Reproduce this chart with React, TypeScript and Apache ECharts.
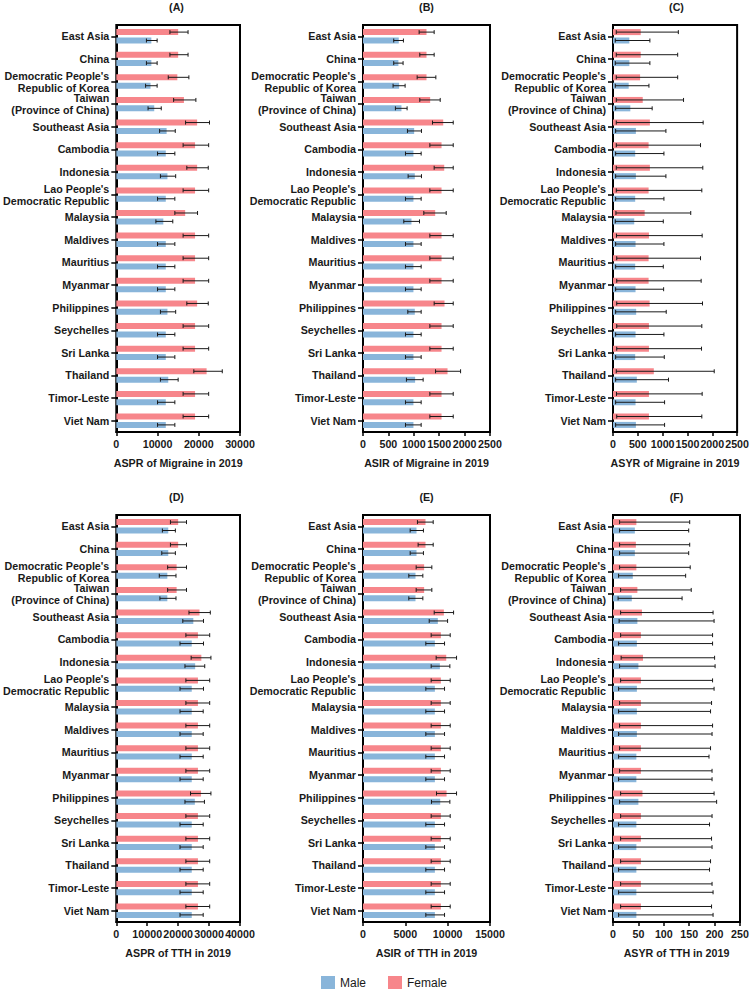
import React, { useEffect, useRef } from "react";
import * as echarts from "echarts";

const CATEGORIES = [
  "East Asia", "China", "Democratic People's\nRepublic of Korea", "Taiwan\n(Province of China)",
  "Southeast Asia", "Cambodia", "Indonesia", "Lao People's\nDemocratic Republic", "Malaysia",
  "Maldives", "Mauritius", "Myanmar", "Philippines", "Seychelles", "Sri Lanka", "Thailand",
  "Timor-Leste", "Viet Nam",
];

// (A) ASPR of Migraine
const A_F = [15000, 15000, 14800, 16400, 19600, 19100, 19600, 19100, 16700, 19100, 19100, 19100, 19600, 19100, 19100, 21900, 19100, 19100];
const A_F_LO = [13000, 13000, 12600, 13900, 16800, 16200, 17100, 16200, 14200, 16200, 16200, 16200, 17100, 16200, 16200, 18800, 16200, 16200];
const A_F_HI = [17400, 17400, 17600, 19300, 22600, 22400, 22300, 22400, 19700, 22400, 22400, 22400, 22300, 22400, 22400, 25700, 22400, 22400];
const A_M = [8500, 8500, 8300, 9200, 12200, 12000, 12400, 12000, 11400, 12000, 12000, 12000, 12400, 12000, 12000, 12600, 12000, 12000];
const A_M_LO = [7300, 7300, 7100, 7700, 10500, 10000, 10700, 10000, 9600, 10000, 10000, 10000, 10700, 10000, 10000, 10700, 10000, 10000];
const A_M_HI = [9900, 9900, 9900, 10900, 14300, 14200, 14400, 14200, 13700, 14200, 14200, 14200, 14400, 14200, 14200, 15000, 14200, 14200];

// (B) ASIR of Migraine
const B_F = [1250, 1250, 1250, 1322, 1579, 1546, 1599, 1546, 1421, 1546, 1546, 1546, 1605, 1546, 1546, 1664, 1546, 1546];
const B_F_LO = [1105, 1118, 1066, 1118, 1368, 1316, 1401, 1316, 1197, 1316, 1316, 1316, 1401, 1316, 1316, 1428, 1316, 1316];
const B_F_HI = [1401, 1401, 1434, 1520, 1776, 1776, 1776, 1776, 1638, 1776, 1776, 1776, 1776, 1776, 1776, 1921, 1776, 1776];
const B_M = [704, 697, 711, 757, 1007, 993, 1020, 993, 954, 993, 993, 993, 1020, 993, 993, 1026, 993, 993];
const B_M_LO = [605, 605, 592, 638, 875, 836, 888, 836, 803, 836, 836, 836, 882, 836, 836, 855, 836, 836];
const B_M_HI = [796, 789, 829, 868, 1151, 1145, 1151, 1145, 1112, 1145, 1145, 1145, 1145, 1145, 1145, 1184, 1145, 1145];

// (C) ASYR of Migraine
const C_F = [559, 559, 546, 599, 743, 717, 743, 717, 638, 724, 717, 717, 737, 724, 724, 822, 724, 724];
const C_F_LO = [66, 66, 66, 66, 66, 66, 66, 66, 59, 70, 75, 75, 75, 75, 75, 66, 70, 75];
const C_F_HI = [1316, 1303, 1303, 1421, 1816, 1763, 1809, 1789, 1566, 1796, 1763, 1776, 1803, 1789, 1783, 2039, 1796, 1789];
const C_M = [329, 329, 316, 349, 461, 447, 461, 447, 428, 454, 447, 454, 467, 454, 447, 480, 454, 461];
const C_M_LO = [46, 46, 46, 53, 53, 53, 53, 53, 46, 53, 53, 53, 53, 53, 53, 53, 53, 53];
const C_M_HI = [743, 743, 724, 789, 1066, 1026, 1066, 1026, 1013, 1026, 1013, 1020, 1072, 1026, 1033, 1118, 1039, 1039];

// (D) ASPR of TTH
const D_F = [20000, 20000, 19500, 19500, 26900, 26400, 27500, 26400, 26400, 26400, 26400, 26400, 27400, 26400, 26400, 26400, 26400, 26400];
const D_F_LO = [17500, 17500, 16600, 16600, 23500, 22500, 24200, 22500, 22500, 22500, 22500, 22500, 24000, 22500, 22500, 22500, 22500, 22500];
const D_F_HI = [22700, 22700, 22700, 22700, 30400, 30200, 30600, 30200, 30200, 30200, 30200, 30200, 30600, 30200, 30200, 30200, 30200, 30200];
const D_M = [16800, 16800, 16500, 16500, 24900, 24400, 25500, 24400, 24400, 24400, 24400, 24400, 25400, 24400, 24400, 24400, 24400, 24400];
const D_M_LO = [14900, 14700, 13900, 14100, 21500, 20600, 22200, 20600, 20600, 20600, 20600, 20600, 22200, 20600, 20600, 20600, 20600, 20600];
const D_M_HI = [19100, 19100, 19300, 19300, 28200, 28200, 28600, 28200, 28100, 28100, 28100, 28100, 28500, 28100, 28100, 28100, 28100, 28100];

// (E) ASIR of TTH
const E_F = [7380, 7380, 7220, 7220, 9550, 9200, 9830, 9200, 9200, 9200, 9200, 9200, 9870, 9200, 9200, 9200, 9200, 9200];
const E_F_LO = [6430, 6510, 6280, 6280, 8410, 8050, 8640, 8050, 8050, 8050, 8050, 8050, 8680, 8050, 8050, 8050, 8050, 8050];
const E_F_HI = [8290, 8290, 8130, 8130, 10700, 10300, 11050, 10300, 10300, 10300, 10300, 10300, 11050, 10300, 10300, 10300, 10300, 10300];
const E_M = [6320, 6320, 6200, 6200, 8840, 8490, 9080, 8490, 8490, 8490, 8490, 8490, 9120, 8490, 8490, 8490, 8490, 8490];
const E_M_LO = [5570, 5570, 5410, 5410, 7820, 7420, 8050, 7420, 7420, 7420, 7420, 7420, 8090, 7420, 7420, 7420, 7420, 7420];
const E_M_HI = [7140, 7140, 7070, 7070, 9990, 9630, 10260, 9630, 9630, 9630, 9630, 9630, 10260, 9630, 9630, 9630, 9630, 9630];

// (F) ASYR of TTH
const F_F = [46, 45, 46, 48, 57, 55, 59, 55, 55, 55, 55, 55, 58, 55, 55, 55, 55, 55];
const F_F_LO = [13, 13, 13, 15, 15, 15, 16, 15, 13, 13, 13, 13, 15, 15, 15, 15, 15, 15];
const F_F_HI = [151, 151, 152, 154, 197, 196, 200, 196, 194, 196, 192, 195, 199, 195, 194, 192, 195, 194];
const F_M = [43, 43, 39, 37, 48, 47, 50, 47, 47, 47, 46, 46, 50, 46, 46, 46, 46, 46];
const F_M_LO = [13, 13, 11, 10, 12, 11, 13, 11, 11, 11, 11, 11, 13, 11, 11, 11, 11, 11];
const F_M_HI = [149, 149, 143, 136, 199, 196, 201, 199, 192, 195, 189, 195, 204, 190, 195, 190, 197, 197];

const PANEL_TITLES = ["(A)", "(B)", "(C)", "(D)", "(E)", "(F)"];
const AXIS_NAMES = [
  "ASPR of Migraine in 2019", "ASIR of Migraine in 2019", "ASYR of Migraine in 2019",
  "ASPR of TTH in 2019", "ASIR of TTH in 2019", "ASYR of TTH in 2019",
];
const AXIS_MAX = [30000, 2500, 2500, 40000, 15000, 250];
const AXIS_INTERVAL = [10000, 500, 500, 10000, 5000, 50];

const PANELS = [
  { f: A_F, fLo: A_F_LO, fHi: A_F_HI, m: A_M, mLo: A_M_LO, mHi: A_M_HI },
  { f: B_F, fLo: B_F_LO, fHi: B_F_HI, m: B_M, mLo: B_M_LO, mHi: B_M_HI },
  { f: C_F, fLo: C_F_LO, fHi: C_F_HI, m: C_M, mLo: C_M_LO, mHi: C_M_HI },
  { f: D_F, fLo: D_F_LO, fHi: D_F_HI, m: D_M, mLo: D_M_LO, mHi: D_M_HI },
  { f: E_F, fLo: E_F_LO, fHi: E_F_HI, m: E_M, mLo: E_M_LO, mHi: E_M_HI },
  { f: F_F, fLo: F_F_LO, fHi: F_F_HI, m: F_M, mLo: F_M_LO, mHi: F_M_HI },
];

const FEMALE_COLOR = "#f7868b";
const MALE_COLOR = "#89b5da";
const FONT = "'Liberation Sans', Arial, Helvetica, sans-serif";
const TEXT_COLOR = "#1a1a1a";
const BAR_W = 6;
const BAR_OFFSET = 4.2;

const GRID_LEFTS = [113, 363, 613];
const GRID_TOPS = [25, 515];
const GRID_W = 127;
const GRID_H = 407;

function errorSeries(idx: number, lo: number[], hi: number[], offset: number, name: string) {
  return {
    type: "custom",
    name,
    xAxisIndex: idx,
    yAxisIndex: idx,
    z: 5,
    silent: true,
    encode: { x: [0, 1], y: 2 },
    data: lo.map((l, i) => [l, hi[i], i]),
    renderItem: (params: any, api: any) => {
      const p1 = api.coord([api.value(0), api.value(2)]);
      const p2 = api.coord([api.value(1), api.value(2)]);
      const y = p1[1] + offset;
      const style = { stroke: "#1a1a1a", lineWidth: 1 };
      return {
        type: "group",
        children: [
          { type: "line", shape: { x1: p1[0], y1: y, x2: p2[0], y2: y }, style },
          { type: "line", shape: { x1: p1[0], y1: y - 2, x2: p1[0], y2: y + 2 }, style },
          { type: "line", shape: { x1: p2[0], y1: y - 2, x2: p2[0], y2: y + 2 }, style },
        ],
      };
    },
  };
}

export default function App() {
  const ref = useRef<HTMLDivElement>(null);
  useEffect(() => {
    if (!ref.current) return;
    const chart = echarts.init(ref.current, undefined, { renderer: "svg" });
    const grids: any[] = [];
    const xAxes: any[] = [];
    const yAxes: any[] = [];
    const titles: any[] = [];
    const series: any[] = [];
    for (let i = 0; i < 6; i++) {
      const left = GRID_LEFTS[i % 3];
      const top = GRID_TOPS[Math.floor(i / 3)];
      grids.push({
        left, top, width: GRID_W, height: GRID_H,
        show: true, borderColor: "#000", borderWidth: 2, backgroundColor: "transparent",
        containLabel: false,
      });
      titles.push({
        text: PANEL_TITLES[i],
        left: left + GRID_W / 2,
        top: top - 24,
        textAlign: "center",
        padding: 0,
        textStyle: { fontFamily: FONT, fontWeight: "bold", fontSize: 10.7, color: TEXT_COLOR },
      });
      xAxes.push({
        gridIndex: i,
        type: "value",
        min: 0,
        max: AXIS_MAX[i],
        interval: AXIS_INTERVAL[i],
        name: AXIS_NAMES[i],
        nameLocation: "middle",
        nameGap: 25,
        nameTextStyle: { fontFamily: FONT, fontWeight: "bold", fontSize: 10.7, color: TEXT_COLOR },
        axisLine: { show: true, lineStyle: { color: "#000", width: 2 } },
        axisTick: { show: true, length: 4, lineStyle: { color: "#000", width: 1.5 } },
        axisLabel: {
          fontFamily: FONT, fontWeight: "bold", fontSize: 10.7, color: TEXT_COLOR, margin: 6,
          formatter: (v: number) => String(v),
        },
        splitLine: { show: false },
      });
      yAxes.push({
        gridIndex: i,
        type: "category",
        data: CATEGORIES,
        inverse: true,
        axisLine: { show: true, lineStyle: { color: "#000", width: 2 } },
        axisTick: { show: true, alignWithLabel: true, length: 5, lineStyle: { color: "#000", width: 1.5 } },
        axisLabel: {
          fontFamily: FONT, fontWeight: "bold", fontSize: 10.7, color: TEXT_COLOR,
          margin: 7, lineHeight: 12, interval: 0, align: "right",
        },
        splitLine: { show: false },
      });
      const p = PANELS[i];
      series.push({
        type: "bar", name: "Female", xAxisIndex: i, yAxisIndex: i,
        data: p.f, barWidth: BAR_W, barGap: "40%",
        itemStyle: { color: FEMALE_COLOR },
      });
      series.push({
        type: "bar", name: "Male", xAxisIndex: i, yAxisIndex: i,
        data: p.m, barWidth: BAR_W, barGap: "40%",
        itemStyle: { color: MALE_COLOR },
      });
      series.push(errorSeries(i, p.fLo, p.fHi, -BAR_OFFSET, "errF" + i));
      series.push(errorSeries(i, p.mLo, p.mHi, BAR_OFFSET, "errM" + i));
    }
    chart.setOption({
      animation: false,
      backgroundColor: "#fff",
      title: titles,
      grid: grids,
      xAxis: xAxes,
      yAxis: yAxes,
      legend: {
        data: ["Male", "Female"],
        left: 321,
        top: 976,
        padding: 0,
        itemWidth: 14,
        itemHeight: 13,
        itemGap: 22,
        icon: "rect",
        textStyle: { fontFamily: FONT, fontSize: 12, color: TEXT_COLOR },
      },
      series,
    });
    return () => chart.dispose();
  }, []);
  return (
    <div
      ref={ref}
      style={{ position: "absolute", left: 0, top: 0, width: 752, height: 991 }}
    />
  );
}
